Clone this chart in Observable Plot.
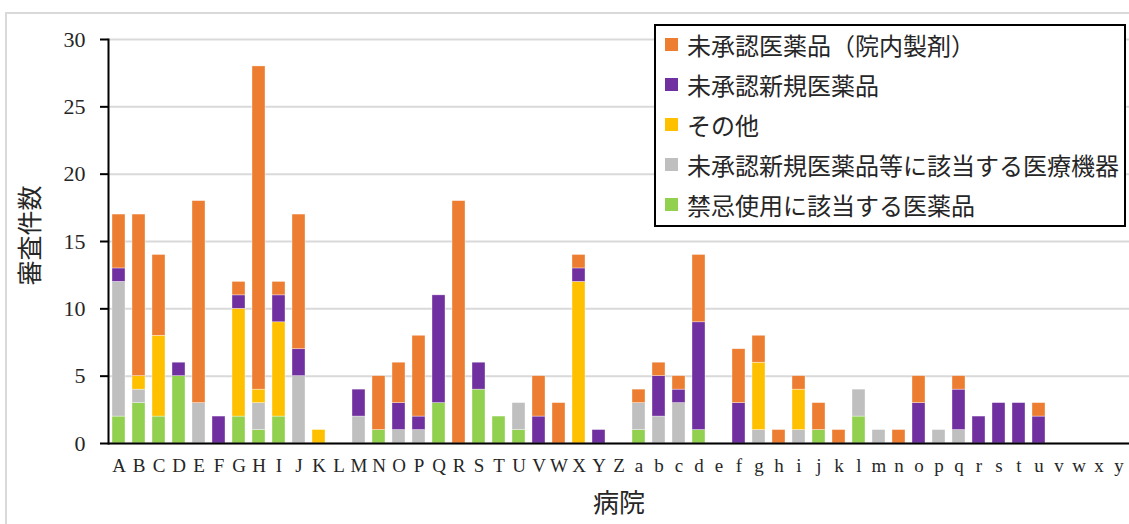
<!DOCTYPE html>
<html lang="ja">
<head>
<meta charset="utf-8">
<script src="https://cdn.jsdelivr.net/npm/d3@7"></script>
<script src="https://cdn.jsdelivr.net/npm/@observablehq/plot@0.6"></script>
<style>
  body { margin: 0; background: #fff; overflow: hidden; }
  #wrap { position: relative; width: 1129px; height: 524px; color: #262626;
          font-family: "Liberation Serif", "Noto Sans CJK JP", serif; }
  #outline { position: absolute; left: 5px; top: 12px; width: 1200px; height: 600px;
             border: 2px solid #d9d9d9; box-sizing: border-box; }
  #chart { position: absolute; left: 0; top: 0; }
  #legend { position: absolute; left: 654px; top: 24px; width: 472px; height: 203px;
            border: 2px solid #000; background: #fff; box-sizing: border-box;
            font-family: "Noto Sans CJK JP", sans-serif; font-size: 24px; color: #262626; }
  .item { position: absolute; left: 9px; height: 30px; display: flex; align-items: center; white-space: nowrap; }
  .swatch { width: 13px; height: 13px; margin-right: 9px; flex: none; }
</style>
</head>
<body>
<div id="wrap">
  <div id="outline"></div>
  <div id="chart"></div>
  <div id="legend"></div>
</div>
<script>
// Hospitals along the x axis
const hospitals = ["A","B","C","D","E","F","G","H","I","J","K","L","M","N","O","P","Q","R","S","T","U","V","W","X","Y","Z",
                   "a","b","c","d","e","f","g","h","i","j","k","l","m","n","o","p","q","r","s","t","u","v","w","x","y"];

// Review counts per hospital, one array per category (stacked bottom to top)
const contraindicatedDrugs = [2,3,2,5,0,0,2,1,2,0,0,0,0,1,0,0,3,0,4,2,1,0,0,0,0,0,
                              1,0,0,1,0,0,0,0,0,1,0,2,0,0,0,0,0,0,0,0,0,0,0,0,0];
const unapprovedDevices    = [10,1,0,0,3,0,0,2,0,5,0,0,2,0,1,1,0,0,0,0,2,0,0,0,0,0,
                              2,2,3,0,0,0,1,0,1,0,0,2,1,0,0,1,1,0,0,0,0,0,0,0,0];
const otherCases           = [0,1,6,0,0,0,8,1,7,0,1,0,0,0,0,0,0,0,0,0,0,0,0,12,0,0,
                              0,0,0,0,0,0,5,0,3,0,0,0,0,0,0,0,0,0,0,0,0,0,0,0,0];
const unapprovedNewDrugs   = [1,0,0,1,0,2,1,0,2,2,0,0,2,0,2,1,8,0,2,0,0,2,0,1,1,0,
                              0,3,1,8,0,3,0,0,0,0,0,0,0,0,3,0,3,2,3,3,2,0,0,0,0];
const inHouseDrugs         = [4,12,6,0,15,0,1,24,1,10,0,0,0,4,3,6,0,18,0,0,0,3,3,1,0,0,
                              1,1,1,5,0,4,2,1,1,2,1,0,0,1,2,0,1,0,0,0,1,0,0,0,0];

const categoryNames = ["禁忌使用に該当する医薬品", "未承認新規医薬品等に該当する医療機器", "その他",
                       "未承認新規医薬品", "未承認医薬品（院内製剤）"];
const categoryColors = ["#92D050", "#BFBFBF", "#FFC000", "#7030A0", "#ED7D31"];
const categoryValues = [contraindicatedDrugs, unapprovedDevices, otherCases, unapprovedNewDrugs, inHouseDrugs];
const yTicks = [0, 5, 10, 15, 20, 25, 30];

const rows = [];
hospitals.forEach((h, i) => {
  categoryNames.forEach((name, k) => {
    const v = categoryValues[k][i];
    if (v > 0) rows.push({hospital: h, category: name, count: v});
  });
});

const serif = "Liberation Serif";
const chart = Plot.plot({
  width: 1129,
  height: 524,
  marginLeft: 108,
  marginRight: 0,
  marginTop: 39,
  marginBottom: 81,
  style: {background: "transparent", color: "#262626", overflow: "visible", fontFamily: serif},
  x: {type: "band", domain: hospitals, paddingInner: 0.33, paddingOuter: 0.165, label: null},
  y: {domain: [0, 30], label: null},
  color: {domain: categoryNames, range: categoryColors},
  marks: [
    Plot.gridY(yTicks, {stroke: "#d9d9d9", strokeWidth: 2, strokeOpacity: 1}),
    Plot.barY(rows, {x: "hospital", y: "count", fill: "category", order: categoryNames,
                     stroke: "#fff", strokeWidth: 0.6, strokeOpacity: 0.6}),
    Plot.ruleY([0], {stroke: "#000", strokeWidth: 2}),
    Plot.frame({anchor: "left", stroke: "#000", strokeWidth: 2}),
    Plot.axisY(yTicks, {tickSize: 8, tickPadding: 15, fontSize: 22, fontFamily: serif,
                        strokeWidth: 2, stroke: "#000", label: null}),
    Plot.axisX({tickSize: 0, tickPadding: 15, fontSize: 19, fontFamily: serif, label: null}),
    Plot.text(["病院"], {text: d => d, frameAnchor: "bottom", lineAnchor: "middle", dy: 60,
                         fontSize: 26, fontFamily: "Noto Sans CJK JP"}),
    Plot.text(["審査件数"], {text: d => d, frameAnchor: "left", textAnchor: "middle", dx: -78, dy: -6,
                           rotate: -90, fontSize: 25, fontFamily: "Noto Sans CJK JP"})
  ]
});
document.getElementById("chart").appendChild(chart);

// Legend box, listed top-down from the last stacked category
const legend = document.getElementById("legend");
categoryNames.slice().reverse().forEach((name, j) => {
  const color = categoryColors[categoryNames.indexOf(name)];
  const item = document.createElement("div");
  item.className = "item";
  item.style.top = (3 + j * 40) + "px";
  const sw = document.createElement("span");
  sw.className = "swatch";
  sw.style.background = color;
  const label = document.createElement("span");
  label.textContent = name;
  item.appendChild(sw);
  item.appendChild(label);
  legend.appendChild(item);
});
</script>
</body>
</html>
